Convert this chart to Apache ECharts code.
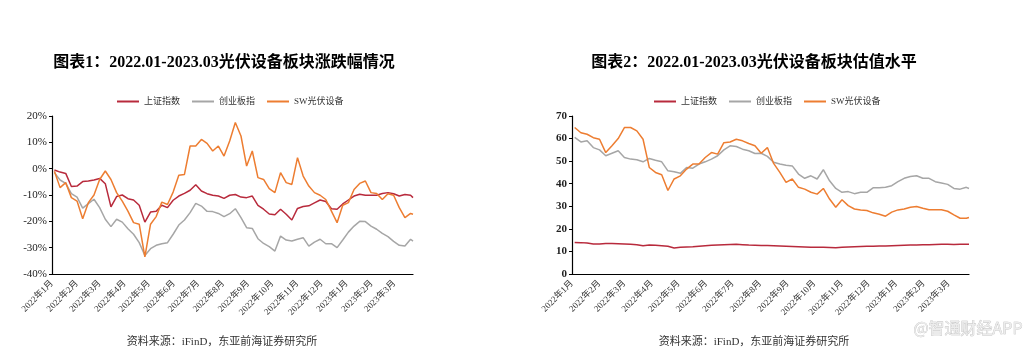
<!DOCTYPE html>
<html><head><meta charset="utf-8">
<script src="https://cdn.jsdelivr.net/npm/echarts@6/dist/echarts.min.js"></script>
<style>html,body{margin:0;padding:0;background:#fff}#c{width:1032px;height:356px}</style>
</head><body><div id="c"></div>
<script>
const dates = ['2022-01-04','2022-01-11','2022-01-18','2022-01-25','2022-02-01','2022-02-08','2022-02-15','2022-02-22','2022-03-01','2022-03-08','2022-03-15','2022-03-22','2022-03-29','2022-04-05','2022-04-12','2022-04-19','2022-04-26','2022-05-03','2022-05-10','2022-05-17','2022-05-24','2022-05-31','2022-06-07','2022-06-14','2022-06-21','2022-06-28','2022-07-05','2022-07-12','2022-07-19','2022-07-26','2022-08-02','2022-08-09','2022-08-16','2022-08-23','2022-08-30','2022-09-06','2022-09-13','2022-09-20','2022-09-27','2022-10-04','2022-10-11','2022-10-18','2022-10-25','2022-11-01','2022-11-08','2022-11-15','2022-11-22','2022-11-29','2022-12-06','2022-12-13','2022-12-20','2022-12-27','2023-01-03','2023-01-10','2023-01-17','2023-01-24','2023-01-31','2023-02-07','2023-02-14','2023-02-21','2023-02-28','2023-03-07','2023-03-14','2023-03-21','2023-03-24'];
const monthLabels = ['2022年1月','2022年2月','2022年3月','2022年4月','2022年5月','2022年6月','2022年7月','2022年8月','2022年9月','2022年10月','2022年11月','2022年12月','2023年1月','2023年2月','2023年3月'];
const seriesNames = ['上证指数','创业板指','SW光伏设备'];
// Chart 1: 涨跌幅 (%)
const chgSH = [-0.5,-1.3,-1.8,-6.8,-6.6,-4.9,-4.7,-4.3,-3.7,-5.7,-14.5,-10.6,-10.0,-11.4,-11.9,-13.9,-20.3,-16.5,-16.2,-13.9,-14.8,-12.0,-10.4,-9.4,-8.2,-6.1,-8.5,-9.5,-10.1,-10.4,-11.3,-10.1,-9.8,-10.8,-11.0,-10.4,-13.9,-15.4,-17.2,-17.5,-15.4,-17.3,-19.5,-15.1,-14.4,-14.1,-13.0,-11.9,-12.5,-15.2,-15.4,-13.4,-11.9,-10.4,-9.7,-10.1,-10.1,-10.1,-9.4,-9.1,-9.5,-10.4,-9.8,-10.1,-11.0];
const chgCYB = [-1.5,-4.3,-5.6,-9.5,-10.8,-15.0,-13.3,-11.6,-14.8,-19.2,-22.0,-19.2,-20.3,-22.8,-24.9,-28.1,-33.0,-30.4,-29.1,-28.5,-28.1,-24.9,-21.4,-19.5,-16.7,-13.2,-14.2,-16.2,-16.3,-17.0,-18.2,-17.1,-15.2,-18.6,-22.4,-22.7,-26.6,-28.4,-29.6,-31.3,-25.6,-27.1,-27.5,-26.8,-26.2,-29.4,-27.9,-26.8,-28.5,-28.5,-30.0,-27.1,-24.1,-21.8,-20.0,-20.1,-21.8,-23.0,-24.6,-25.8,-27.6,-29.1,-29.4,-26.8,-27.5];
const chgSW = [-1.0,-7.2,-5.3,-11.0,-12.3,-19.0,-12.9,-10.0,-4.1,-0.9,-4.1,-9.1,-12.3,-16.1,-20.5,-21.1,-33.5,-21.1,-18.2,-12.7,-13.6,-8.9,-2.5,-2.2,8.6,8.6,11.1,9.6,6.7,8.6,4.8,10.5,17.5,12.4,1.0,6.7,-3.4,-4.1,-7.6,-9.1,-1.5,-5.3,-6.0,4.2,-2.8,-6.6,-9.1,-10.1,-11.7,-16.1,-20.5,-13.9,-12.9,-7.9,-5.6,-4.7,-9.1,-9.4,-11.7,-9.5,-10.1,-14.8,-18.6,-17.0,-17.3];
// Chart 2: 估值 (PE)
const peSH = [14.0,13.9,13.7,13.3,13.3,13.5,13.5,13.4,13.3,13.2,13.0,12.5,12.8,12.7,12.5,12.3,11.5,11.9,12.0,12.1,12.3,12.5,12.7,12.9,13.0,13.1,13.2,13.0,12.8,12.7,12.6,12.6,12.5,12.4,12.3,12.2,12.1,12.0,11.9,11.9,11.8,11.7,11.6,11.8,12.0,12.1,12.2,12.3,12.3,12.4,12.4,12.5,12.6,12.7,12.8,12.9,13.0,13.0,13.1,13.2,13.2,13.1,13.2,13.2,13.2];
const peCYB = [60.5,58.5,59.0,56.0,55.0,52.4,53.5,54.6,51.6,50.9,50.6,49.7,51.2,50.4,49.7,45.7,45.3,44.6,47.2,46.9,48.7,49.7,50.9,52.4,55.0,56.8,56.5,55.3,54.6,53.4,53.5,52.1,49.5,48.7,48.2,47.9,44.3,42.4,43.5,42.1,46.2,41.3,37.9,36.2,36.5,35.6,36.2,36.2,38.2,38.2,38.4,39.1,40.9,42.4,43.2,43.5,42.4,42.4,40.9,40.3,39.7,37.9,37.6,38.4,37.9];
const peSW = [64.9,62.6,61.9,60.4,59.7,53.8,56.8,60.0,64.9,64.9,63.4,59.7,47.2,45.0,44.0,37.0,42.1,43.5,46.5,48.7,48.7,51.6,53.8,53.1,58.2,58.5,59.7,59.0,57.8,56.8,53.5,56.0,49.0,45.0,40.6,42.1,38.4,37.6,36.2,35.4,37.9,33.2,29.6,32.9,30.3,28.8,28.4,28.1,27.1,26.5,25.6,27.4,28.4,28.8,29.6,29.9,29.1,28.5,28.5,28.5,27.8,26.2,24.7,24.7,25.0];

const colors = ['#B82A3C','#A6A6A6','#ED7D31'];
const SERIF = '"Liberation Serif","Noto Sans CJK SC",serif';
const pair = arr => dates.map((d,i)=>[d, arr[i]]);
const DAY = 86400000;

function xAxis(gi){
  return {type:'time', gridIndex:gi, min:'2022-01-01', max:'2023-03-24',
    minInterval:28*DAY, maxInterval:31*DAY,
    axisLine:{onZero:false, lineStyle:{color:'#000',width:1.2}}, axisTick:{show:false}, splitLine:{show:false},
    axisLabel:{rotate:45, fontSize:9, color:'#333', fontFamily:SERIF, margin:8, showMaxLabel:false, hideOverlap:false,
      formatter: v => { const d = new Date(v); const idx = (d.getFullYear()-2022)*12 + d.getMonth(); return monthLabels[idx] || ''; }}
  };
}
function yAxis(gi, min, max, fmt, bold){
  return {type:'value', gridIndex:gi, min:min, max:max, interval:10,
    axisLine:{show:true, onZero:false, lineStyle:{color:'#000',width:1.2}},
    axisTick:{show:true, length:3, lineStyle:{color:'#000'}},
    splitLine:{show:false},
    axisLabel:{formatter:fmt, fontSize:11, color:'#222', fontFamily:SERIF, margin:5, fontWeight: bold?'bold':'normal'}
  };
}
function line(name, gi, arr, color){
  return {name:name, type:'line', xAxisIndex:gi, yAxisIndex:gi, data:pair(arr), showSymbol:false, symbol:'none',
    lineStyle:{color:color, width:1.5}, itemStyle:{color:color}};
}
const legendBase = {icon:'rect', itemWidth:22, itemHeight:2, itemGap:12, textStyle:{fontSize:9, color:'#333', fontFamily:SERIF}, data:seriesNames};

const chart = echarts.init(document.getElementById('c'), null, {renderer:'canvas'});
chart.setOption({
  animation:false,
  color:colors,
  grid:[{left:52, top:116, width:361, height:158},{left:572, top:116, width:397, height:158}],
  xAxis:[xAxis(0), xAxis(1)],
  yAxis:[yAxis(0,-40,20,'{value}%',false), yAxis(1,0,70,'{value}',true)],
  legend:[Object.assign({left:112, top:92}, legendBase), Object.assign({left:649, top:92}, legendBase)],
  series:[
    line(seriesNames[0],0,chgSH,colors[0]), line(seriesNames[1],0,chgCYB,colors[1]), line(seriesNames[2],0,chgSW,colors[2]),
    line(seriesNames[0],1,peSH,colors[0]), line(seriesNames[1],1,peCYB,colors[1]), line(seriesNames[2],1,peSW,colors[2])
  ],
  graphic:[
    {type:'text', x:224, y:63, style:{text:'图表1：2022.01-2023.03光伏设备板块涨跌幅情况', font:'bold 16px '+SERIF, fill:'#000', align:'center', verticalAlign:'middle'}},
    {type:'text', x:754, y:63, style:{text:'图表2：2022.01-2023.03光伏设备板块估值水平', font:'bold 16px '+SERIF, fill:'#000', align:'center', verticalAlign:'middle'}},
    {type:'text', x:222, y:342, style:{text:'资料来源：iFinD，东亚前海证券研究所', font:'11px '+SERIF, fill:'#333', align:'center', verticalAlign:'middle'}},
    {type:'text', x:754, y:342, style:{text:'资料来源：iFinD，东亚前海证券研究所', font:'11px '+SERIF, fill:'#333', align:'center', verticalAlign:'middle'}},
    {type:'text', x:968, y:328, style:{text:'@智通财经APP', font:'16px "Noto Sans CJK SC",sans-serif', fill:'#ececec', stroke:'#b8b8b8', lineWidth:0.6, align:'center', verticalAlign:'middle'}}
  ]
});
</script></body></html>
